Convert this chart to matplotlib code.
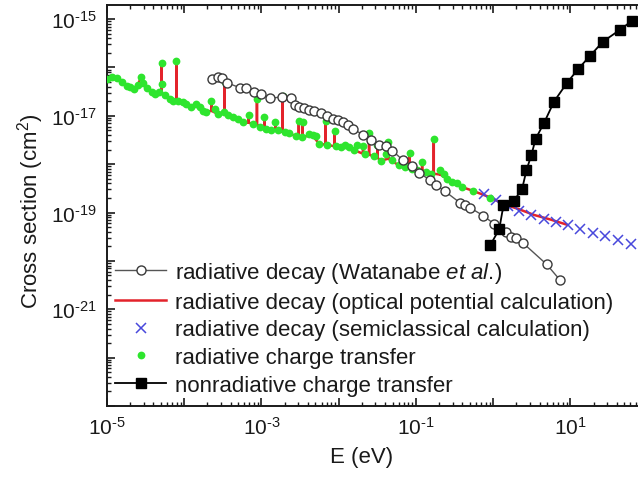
import numpy as np
import matplotlib
matplotlib.use("Agg")
import matplotlib.pyplot as plt
from matplotlib.ticker import LogLocator, NullFormatter

plt.rcParams["font.family"] = ["Liberation Sans", "DejaVu Sans"]
plt.rcParams["mathtext.fontset"] = "custom"
plt.rcParams["mathtext.rm"] = "Liberation Sans"
plt.rcParams["mathtext.it"] = "Liberation Sans:italic"
plt.rcParams["mathtext.default"] = "regular"

# ---- data (log10 of energy in eV and of cross section in cm^2) ----
watanabe_log_E = [-3.639, -3.568, -3.510, -3.445, -3.271, -3.194, -3.090, -3.006, -2.884, -2.735,
                  -2.619, -2.568, -2.510, -2.445, -2.381, -2.316, -2.226, -2.148, -2.077, -2.013,
                  -1.942, -1.877, -1.819, -1.684, -1.587, -1.471, -1.381, -1.303, -1.168, -1.052,
                  -0.955, -0.813, -0.742, -0.626, -0.432, -0.368, -0.303, -0.129, 0.006, 0.161,
                  0.235, 0.299, 0.394, 0.694, 0.867]
watanabe_log_sigma = [-16.237, -16.196, -16.216, -16.320, -16.423, -16.423, -16.505, -16.546, -16.639, -16.608,
                      -16.639, -16.773, -16.825, -16.845, -16.887, -16.907, -16.938, -17.000, -17.062, -17.097,
                      -17.138, -17.196, -17.268, -17.392, -17.495, -17.608, -17.629, -17.722, -17.918, -18.031,
                      -18.186, -18.330, -18.433, -18.557, -18.794, -18.845, -18.897, -19.062, -19.227, -19.398,
                      -19.501, -19.522, -19.639, -20.072, -20.396]

optical_log_E = [-5.000, -4.937, -4.871, -4.806, -4.742, -4.652, -4.600, -4.561, -4.523, -4.484, -4.419, -4.381, -4.329,
                 -4.294, -4.294, -4.294,
                 -4.252, -4.187,
                 -4.101, -4.101, -4.101,
                 -4.019, -3.916, -3.839, -3.800, -3.714,
                 -3.649, -3.649, -3.649,
                 -3.568,
                 -3.477, -3.477, -3.477,
                 -3.374, -3.245,
                 -3.164, -3.164, -3.164,
                 -3.058, -3.058, -3.058,
                 -2.961, -2.961, -2.961,
                 -2.875,
                 -2.819, -2.819, -2.819,
                 -2.725, -2.725, -2.725,
                 -2.639, -2.574,
                 -2.516, -2.516, -2.516,
                 -2.467, -2.467, -2.467,
                 -2.342, -2.252,
                 -2.168, -2.168, -2.168,
                 -2.052, -2.052, -2.052,
                 -1.929, -1.800,
                 -1.684, -1.684, -1.684,
                 -1.606, -1.606, -1.606,
                 -1.499, -1.499, -1.499,
                 -1.452,
                 -1.357, -1.357, -1.357,
                 -1.219,
                 -1.081, -1.081, -1.081,
                 -0.919, -0.919, -0.919,
                 -0.768, -0.768, -0.768,
                 -0.681, -0.681, -0.681,
                 -0.600, -0.497, -0.406, -0.252, -0.032, 0.135, 0.329, 0.535, 0.742, 0.948]
optical_log_sigma = [-16.237, -16.196, -16.227, -16.299, -16.381, -16.443, -16.361, -16.206, -16.320, -16.433, -16.511, -16.546, -16.505,
                     -16.526, -15.907, -16.526,
                     -16.567, -16.650,
                     -16.685, -15.860, -16.685,
                     -16.711, -16.814, -16.753, -16.814, -16.918,
                     -16.897, -16.685, -16.897,
                     -16.959,
                     -16.938, -16.305, -16.938,
                     -17.021, -17.124,
                     -17.144, -16.994, -17.144,
                     -17.186, -16.650, -17.186,
                     -17.247, -17.021, -17.247,
                     -17.303,
                     -17.299, -17.124, -17.299,
                     -17.330, -16.588, -17.330,
                     -17.351, -17.412,
                     -17.433, -17.103, -17.433,
                     -17.433, -17.124, -17.433,
                     -17.406, -17.577,
                     -17.598, -17.103, -17.598,
                     -17.629, -17.309, -17.629,
                     -17.619, -17.711,
                     -17.784, -17.619, -17.784,
                     -17.804, -17.361, -17.804,
                     -17.866, -17.612, -17.866,
                     -17.928,
                     -17.887, -17.542, -17.887,
                     -18.025,
                     -18.052, -17.773, -18.052,
                     -18.134, -17.949, -18.134,
                     -18.196, -17.474, -18.196,
                     -18.217, -18.113, -18.217,
                     -18.299, -18.367, -18.470, -18.557, -18.691, -18.825, -18.928, -19.052, -19.144, -19.247]

semiclassical_log_E = [-0.123, 0.032, 0.187, 0.342, 0.497, 0.665, 0.819, 0.974, 1.129, 1.297, 1.452, 1.619, 1.787]
semiclassical_log_sigma = [-18.619, -18.732, -18.856, -18.959, -19.052, -19.124, -19.196, -19.258, -19.340,
                           -19.423, -19.485, -19.567, -19.660]

rct_log_E = [-5.000, -4.939, -4.875, -4.810, -4.746, -4.703, -4.648, -4.604, -4.561, -4.532,
             -4.488, -4.423, -4.381, -4.329, -4.294, -4.286, -4.252, -4.187, -4.145, -4.101,
             -4.080, -4.015, -3.972, -3.916, -3.843, -3.800, -3.757, -3.714, -3.649, -3.606,
             -3.564, -3.490, -3.477, -3.435, -3.370, -3.306, -3.241, -3.164, -3.112, -3.058,
             -3.017, -2.961, -2.939, -2.875, -2.819, -2.790, -2.725, -2.690, -2.639, -2.552,
             -2.516, -2.480, -2.467, -2.381, -2.338, -2.294, -2.252, -2.168, -2.145, -2.052,
             -2.036, -1.972, -1.920, -1.865, -1.800, -1.757, -1.684, -1.658, -1.606, -1.542,
             -1.499, -1.456, -1.391, -1.357, -1.306, -1.219, -1.142, -1.081, -1.048, -0.987,
             -0.919, -0.875, -0.810, -0.768, -0.681, -0.639, -0.600, -0.536, -0.471, -0.403,
             -0.256, -0.039]
rct_log_sigma = [-16.237, -16.196, -16.223, -16.293, -16.375, -16.408, -16.443, -16.361, -16.202, -16.320,
                 -16.429, -16.511, -16.546, -16.499, -15.907, -16.340, -16.567, -16.650, -16.685, -15.860,
                 -16.685, -16.705, -16.753, -16.821, -16.753, -16.821, -16.891, -16.924, -16.685, -16.856,
                 -16.959, -16.924, -16.305, -16.979, -17.027, -17.062, -17.130, -16.994, -17.165, -16.650,
                 -17.233, -17.021, -17.268, -17.303, -17.124, -17.303, -16.588, -17.336, -17.351, -17.427,
                 -17.103, -17.439, -17.124, -17.371, -17.406, -17.427, -17.577, -17.103, -17.612, -17.309,
                 -17.633, -17.645, -17.612, -17.645, -17.716, -17.612, -17.619, -17.784, -17.361, -17.825,
                 -17.612, -17.938, -17.784, -17.542, -17.922, -18.025, -18.052, -17.773, -18.093, -18.113,
                 -17.949, -18.161, -18.196, -17.474, -18.113, -18.196, -18.299, -18.361, -18.392, -18.470,
                 -18.557, -18.691]

nonrad_log_E = [-0.036, 0.080, 0.135, 0.268, 0.377, 0.432, 0.497, 0.552, 0.661, 0.790,
                0.957, 1.103, 1.258, 1.422, 1.645, 1.800]
nonrad_log_sigma = [-19.674, -19.344, -18.845, -18.763, -18.505, -18.128, -17.804, -17.474, -17.144, -16.705,
                    -16.320, -16.031, -15.757, -15.468, -15.221, -15.035]

x_major_exponents = list(range(-5, 3))
x_tick_labels = [r"$10^{\text{-}5}$", "", r"$10^{\text{-}3}$", "", r"$10^{\text{-}1}$", "", r"$10^{1}$", ""]
y_major_exponents = list(range(-23, -14))
y_tick_labels = ["", "", r"$10^{\text{-}21}$", "", r"$10^{\text{-}19}$", "", r"$10^{\text{-}17}$", "",
                 r"$10^{\text{-}15}$"]


def p10(v):
    return 10.0 ** np.asarray(v)


fig = plt.figure(figsize=(6.38, 4.81), dpi=100)
ax = fig.add_axes([0.1677, 0.1538, 0.8472, 0.8337])
ax.set_xscale("log")
ax.set_yscale("log")

h_wat, = ax.plot(p10(watanabe_log_E), p10(watanabe_log_sigma), "-", color="#555555", lw=1.0,
                 marker="o", ms=6.5, mfc="white", mec="#3a3a3a", mew=1.0, zorder=4,
                 label=r"radiative decay (Watanabe $\mathit{et\ al.}\!)$")
h_opt, = ax.plot(p10(optical_log_E), p10(optical_log_sigma), "-", color="#e3232b", lw=1.8, zorder=2,
                 label="radiative decay (optical potential calculation)")
h_semi, = ax.plot(p10(semiclassical_log_E), p10(semiclassical_log_sigma), "x", color="#4848dc",
                  ms=7, mew=1.1, zorder=3, label="radiative decay (semiclassical calculation)")
h_rct, = ax.plot(p10(rct_log_E), p10(rct_log_sigma), "o", color="#2ee52e", ms=5.6, mew=0, zorder=3.5,
                 label="radiative charge transfer")
h_non, = ax.plot(p10(nonrad_log_E), p10(nonrad_log_sigma), "-", color="black", lw=1.3,
                 marker="s", ms=6.5, zorder=5, label="nonradiative charge transfer")

ax.set_xticks(10.0 ** np.array(x_major_exponents, dtype=float))
ax.set_xticklabels(x_tick_labels)
ax.set_yticks(10.0 ** np.array(y_major_exponents, dtype=float))
ax.set_yticklabels(y_tick_labels)
ax.xaxis.set_minor_locator(LogLocator(base=10, subs=np.arange(2, 10), numticks=100))
ax.yaxis.set_minor_locator(LogLocator(base=10, subs=np.arange(2, 10), numticks=100))
ax.xaxis.set_minor_formatter(NullFormatter())
ax.yaxis.set_minor_formatter(NullFormatter())
ax.set_xlim(1e-5, 1e2)
ax.set_ylim(1e-23, 1.95e-15)

ax.tick_params(which="both", direction="in", top=True, right=True, colors="#1a1a1a")
ax.tick_params(which="major", length=6, width=1.2, labelsize=15, pad=7)
ax.tick_params(which="minor", length=3, width=1.0)
for s in ax.spines.values():
    s.set_linewidth(1.4)
    s.set_color("#1a1a1a")

fig.text(31 / 638, 1 - 211 / 481, "Cross section (cm$^2$)", rotation=90,
         ha="center", va="center", fontsize=16, color="#1a1a1a")
fig.text(362 / 638, 1 - 458 / 481, "E (eV)", ha="center", va="center", fontsize=16, color="#1a1a1a")

ax.legend(handles=[h_wat, h_opt, h_semi, h_rct, h_non], loc="upper left",
          bbox_to_anchor=(115 / 638, 1 - 261 / 481), bbox_transform=fig.transFigure,
          frameon=False, borderpad=0, borderaxespad=0, handlelength=2.3, handletextpad=0.4,
          labelspacing=0.3, numpoints=1, fontsize=16, labelcolor="#1a1a1a")

fig.savefig("out.png", dpi=100)
